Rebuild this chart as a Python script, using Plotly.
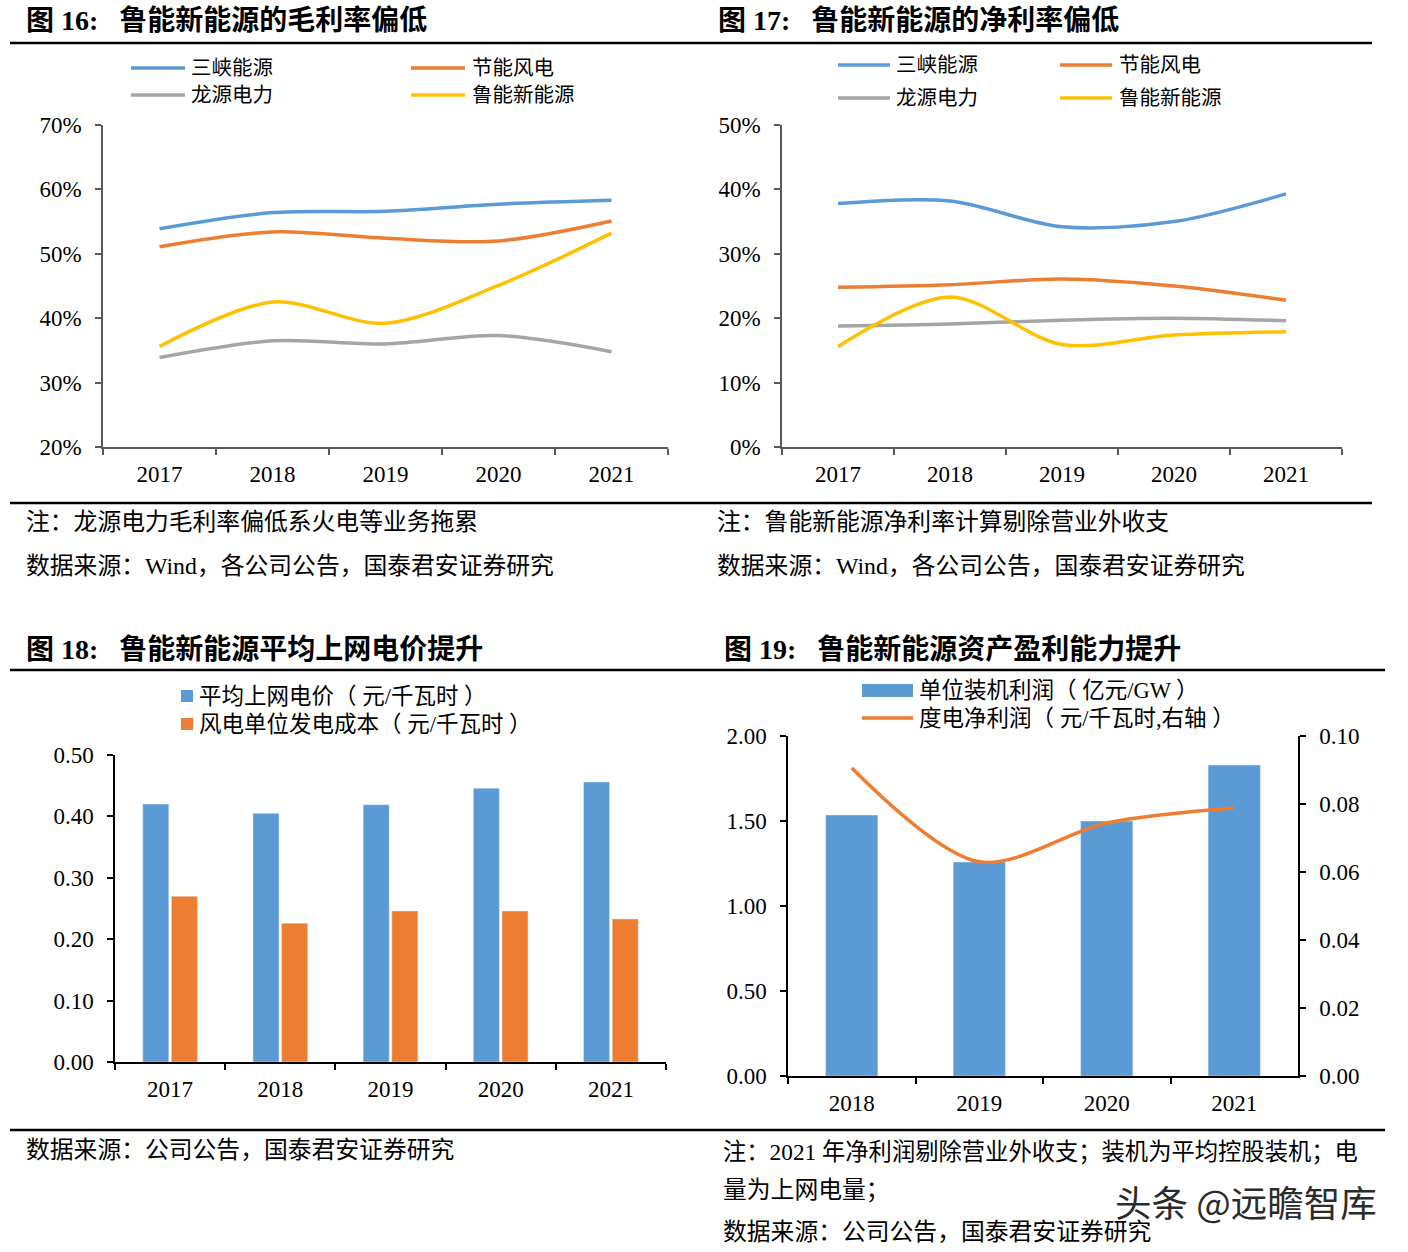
import plotly.graph_objects as go

W, H = 1408, 1252

# ---------------- data ----------------
years_a = ["2017", "2018", "2019", "2020", "2021"]
series_names = ["三峡能源", "节能风电", "龙源电力", "鲁能新能源"]
gross_margin = {
    "三峡能源": [53.9, 56.4, 56.6, 57.7, 58.3],
    "节能风电": [51.1, 53.4, 52.4, 52.0, 55.1],
    "龙源电力": [33.9, 36.5, 36.0, 37.3, 34.8],
    "鲁能新能源": [35.6, 42.5, 39.2, 45.1, 53.2],
}
net_margin = {
    "三峡能源": [37.8, 38.2, 34.2, 35.0, 39.3],
    "节能风电": [24.8, 25.2, 26.1, 25.0, 22.8],
    "龙源电力": [18.8, 19.1, 19.7, 20.0, 19.6],
    "鲁能新能源": [15.6, 23.3, 15.9, 17.4, 17.9],
}
price_names = ["平均上网电价（ 元/千瓦时 ）", "风电单位发电成本（ 元/千瓦时 ）"]
avg_price = [0.420, 0.405, 0.419, 0.446, 0.456]
unit_cost = [0.270, 0.226, 0.246, 0.246, 0.233]

years_b = ["2018", "2019", "2020", "2021"]
profit_names = ["单位装机利润（ 亿元/GW ）", "度电净利润（ 元/千瓦时,右轴 ）"]
profit_per_gw = [1.535, 1.259, 1.500, 1.829]
profit_per_kwh = [0.0906, 0.0630, 0.0744, 0.0788]

colors = {"三峡能源": "#5B9BD5", "节能风电": "#ED7D31", "龙源电力": "#A5A5A5", "鲁能新能源": "#FFC000"}
BLUE, ORANGE = "#5B9BD5", "#ED7D31"

FONT = "Liberation Serif, Noto Sans CJK SC, serif"


def fx(px):
    return px / W


def fy(py):
    return 1 - py / H


fig = go.Figure()

# chart 16
for n in series_names:
    fig.add_trace(go.Scatter(x=years_a, y=gross_margin[n], mode="lines", name=n,
                             line=dict(color=colors[n], width=3.5, shape="spline", smoothing=0.9),
                             xaxis="x", yaxis="y", showlegend=False))
# chart 17
for n in series_names:
    fig.add_trace(go.Scatter(x=years_a, y=net_margin[n], mode="lines", name=n,
                             line=dict(color=colors[n], width=3.5, shape="spline", smoothing=0.9),
                             xaxis="x2", yaxis="y2", showlegend=False))
# chart 18
fig.add_trace(go.Bar(x=years_a, y=avg_price, name=price_names[0], marker_color=BLUE,
                     xaxis="x3", yaxis="y3", showlegend=False))
fig.add_trace(go.Bar(x=years_a, y=unit_cost, name=price_names[1], marker_color=ORANGE,
                     xaxis="x3", yaxis="y3", showlegend=False))
# chart 19
fig.add_trace(go.Bar(x=years_b, y=profit_per_gw, name=profit_names[0], marker_color=BLUE,
                     width=0.41, xaxis="x4", yaxis="y4", showlegend=False))
fig.add_trace(go.Scatter(x=years_b, y=profit_per_kwh, mode="lines", name=profit_names[1],
                         line=dict(color=ORANGE, width=3.5, shape="spline", smoothing=0.9),
                         xaxis="x4", yaxis="y5", showlegend=False))

tickfont = dict(family=FONT, size=23, color="black")


def xcat(domain, col, n):
    return dict(domain=domain, type="category", range=[-0.5, n - 0.5], showline=True,
                linecolor=col, linewidth=1.5, ticks="outside", tickson="boundaries",
                ticklen=6, tickcolor=col, tickwidth=1.5, tickfont=tickfont,
                ticklabelstandoff=6, showgrid=False, zeroline=False, fixedrange=True,
                automargin=False)


def yax(domain, col, rng, dtick, fmt=None, suffix=None, anchor=None, side="left", overlaying=None):
    d = dict(domain=domain, range=rng, dtick=dtick, showline=True, linecolor=col, linewidth=1.5,
             ticks="outside", ticklen=6, tickcolor=col, tickwidth=1.5, tickfont=tickfont,
             showgrid=False, zeroline=False, side=side, ticklabelstandoff=9, fixedrange=True,
             automargin=False)
    if fmt:
        d["tickformat"] = fmt
    if suffix:
        d["ticksuffix"] = suffix
    if anchor:
        d["anchor"] = anchor
    if overlaying:
        d["overlaying"] = overlaying
    return d


GRAY_AX = "#595959"
fig.update_layout(
    width=W, height=H, margin=dict(l=0, r=0, t=0, b=0, pad=0, autoexpand=False),
    showlegend=False,
    paper_bgcolor="white", plot_bgcolor="rgba(0,0,0,0)",
    barmode="group", bargap=0.48, bargroupgap=0.09,
    xaxis=xcat([fx(103), fx(668)], GRAY_AX, 5) | dict(anchor="y"),
    yaxis=yax([fy(447), fy(125)], GRAY_AX, [20, 70], 10, suffix="%", anchor="x"),
    xaxis2=xcat([fx(782), fx(1342)], GRAY_AX, 5) | dict(anchor="y2"),
    yaxis2=yax([fy(447), fy(125)], GRAY_AX, [0, 50], 10, suffix="%", anchor="x2"),
    xaxis3=xcat([fx(115), fx(666)], "black", 5) | dict(anchor="y3"),
    yaxis3=yax([fy(1062), fy(755)], "black", [0, 0.5], 0.1, fmt=".2f", anchor="x3"),
    xaxis4=xcat([fx(788), fx(1298)], "black", 4) | dict(anchor="y4"),
    yaxis4=yax([fy(1076), fy(736)], "black", [0, 2.0], 0.5, fmt=".2f", anchor="x4"),
    yaxis5=yax([fy(1076), fy(736)], "black", [0, 0.1], 0.02, fmt=".2f", anchor="x4",
               side="right", overlaying="y4"),
)

shapes = []
annotations = []


def rule(y, x0, x1):
    shapes.append(dict(type="line", xref="paper", yref="paper", x0=fx(x0), x1=fx(x1),
                       y0=fy(y), y1=fy(y), line=dict(color="black", width=2.5)))


rule(43, 10, 1372)
rule(503, 10, 1372)
rule(670, 10, 1385)
rule(1130, 10, 1385)


def text(x, y, s, size=20, bold=False, color="black", family=FONT):
    if bold:
        s = "<b>" + s + "</b>"
    annotations.append(dict(xref="paper", yref="paper", x=fx(x), y=fy(y), text=s,
                            showarrow=False, xanchor="left", yanchor="middle",
                            font=dict(family=family, size=size, color=color)))


# titles
SP = "&nbsp;&nbsp;&nbsp;"
text(24, 21, "图 16:" + SP + "鲁能新能源的毛利率偏低", size=28, bold=True)
text(716, 21, "图 17:" + SP + "鲁能新能源的净利率偏低", size=28, bold=True)
text(24, 649, "图 18:" + SP + "鲁能新能源平均上网电价提升", size=28, bold=True)
text(722, 649, "图 19:" + SP + "鲁能新能源资产盈利能力提升", size=28, bold=True)

# notes
NS = 23.8
text(24, 522, "注：龙源电力毛利率偏低系火电等业务拖累", size=NS)
text(24, 566, "数据来源：Wind，各公司公告，国泰君安证券研究", size=NS)
text(715, 522, "注：鲁能新能源净利率计算剔除营业外收支", size=NS)
text(715, 566, "数据来源：Wind，各公司公告，国泰君安证券研究", size=NS)
text(24, 1150, "数据来源：公司公告，国泰君安证券研究", size=NS)
text(721, 1152, "注：2021 年净利润剔除营业外收支；装机为平均控股装机；电", size=23.3)
text(721, 1190, "量为上网电量；", size=NS)
text(721, 1232, "数据来源：公司公告，国泰君安证券研究", size=NS)

# watermark
text(1113, 1201, "头条 @远瞻智库", size=36.5, color="#2b2b2b", family="Noto Sans CJK SC")


# legends
def leg_line(x0, x1, y, col, label, tx, size=20.5):
    shapes.append(dict(type="line", xref="paper", yref="paper", x0=fx(x0), x1=fx(x1),
                       y0=fy(y), y1=fy(y), line=dict(color=col, width=3.5)))
    text(tx, y, label, size=size)


def leg_box(x0, x1, y0, y1, col, label, tx, ty, size=20.5):
    shapes.append(dict(type="rect", xref="paper", yref="paper", x0=fx(x0), x1=fx(x1),
                       y0=fy(y1), y1=fy(y0), fillcolor=col, line=dict(width=0)))
    text(tx, ty, label, size=size)


leg_line(131, 185, 68, colors["三峡能源"], "三峡能源", 189)
leg_line(411, 465, 68, colors["节能风电"], "节能风电", 470)
leg_line(131, 185, 95, colors["龙源电力"], "龙源电力", 189)
leg_line(411, 465, 95, colors["鲁能新能源"], "鲁能新能源", 470)

leg_line(838, 890, 65, colors["三峡能源"], "三峡能源", 894)
leg_line(1060, 1112, 65, colors["节能风电"], "节能风电", 1117)
leg_line(838, 890, 98, colors["龙源电力"], "龙源电力", 894)
leg_line(1060, 1112, 98, colors["鲁能新能源"], "鲁能新能源", 1117)

leg_box(181, 193, 690, 702, BLUE, price_names[0], 197, 696, size=22.5)
leg_box(181, 193, 718, 730, ORANGE, price_names[1], 197, 724, size=22.5)

leg_box(862, 913, 684, 697, BLUE, profit_names[0], 917, 690, size=22.5)
leg_line(862, 913, 718, ORANGE, profit_names[1], 917, size=22.5)

fig.update_layout(shapes=shapes, annotations=annotations)
# remove the browser's default 8px body margin so the figure sits at the page origin
fig.write_html("out.html", config={"displayModeBar": False, "staticPlot": False},
               post_script="document.body.style.margin='0px';")
